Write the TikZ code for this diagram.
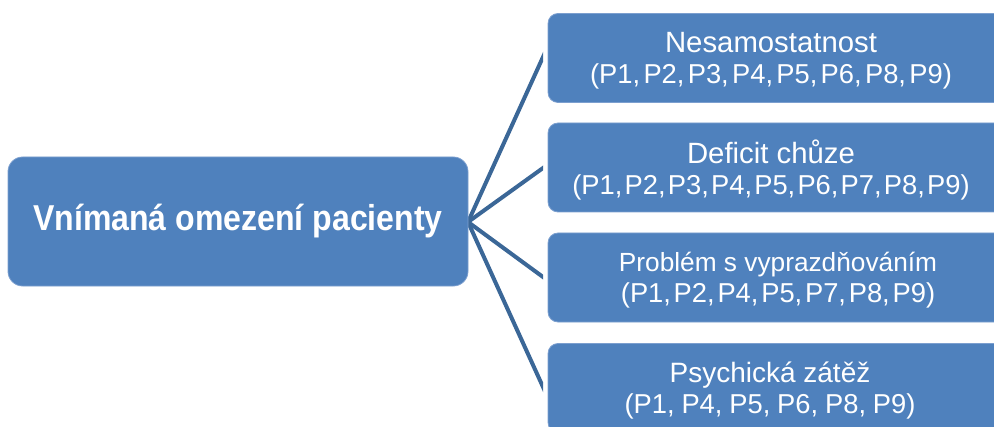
\documentclass[tikz,border=0pt]{standalone}
\usepackage{fontspec}
\setmainfont{Liberation Sans}
\usepackage{graphicx}
\usetikzlibrary{calc}
\definecolor{boxblue}{HTML}{4F81BD}
\definecolor{boxedge}{HTML}{7C9FCF}
\definecolor{linkblue}{HTML}{3B6797}
% title line and list line of a leaf box
\newcommand{\leafhead}[2]{{\fontsize{#1}{23.5}\selectfont #2}}
\newcommand{\leaflist}[2]{{\spaceskip=#1\relax #2}}
\begin{document}
\begin{tikzpicture}[x=0.75pt,y=-0.75pt,
  rootbox/.style={fill=boxblue, draw=boxedge, line width=0.6pt, rounded corners=11pt,
    minimum width=345pt, minimum height=96.75pt, inner sep=0pt, text=white},
  leafbox/.style={fill=boxblue, draw=boxedge, line width=0.6pt, rounded corners=7.5pt,
    minimum width=343.5pt, minimum height=66.75pt, inner sep=0pt},
  leaftext/.style={text=white, align=center, inner sep=0pt,
    font=\fontsize{20.5}{23.5}\selectfont},
  link/.style={draw=linkblue, line width=3pt}]
\useasboundingbox (0,0) rectangle (994,427);
\clip (0,0) rectangle (994,427);

% leaf boxes (their right ends run past the page edge)
\node[leafbox] (b1) at (777,58) {};
\node[leafbox] (b2) at (777,167.5) {};
\node[leafbox] (b3) at (777,277.5) {};
\node[leafbox] (b4) at (777,388) {};

\node[leaftext] (t1) at (771,60.5)
  {\leafhead{22}{Nesamostatnost}\\\leaflist{0.12em}{(P1, P2, P3, P4, P5, P6, P8, P9)}};
\node[leaftext] (t2) at (771,170)
  {\leafhead{22}{Deficit chůze}\\\leaflist{0.08em}{(P1, P2, P3, P4, P5, P6, P7, P8, P9)}};
\node[leaftext] (t3) at (778,280)
  {\leafhead{19.7}{Problém s vyprazdňováním}\\\leaflist{0.1em}{(P1, P2, P4, P5, P7, P8, P9)}};
\node[leaftext] (t4) at (770,390.5)
  {\leafhead{21}{Psychická zátěž}\\\leaflist{0.25em}{(P1, P4, P5, P6, P8, P9)}};

% free ends of the connectors, just short of the leaf boxes
\coordinate (e1) at (543,57);
\coordinate (e2) at (543,168);
\coordinate (e3) at (543,277);
\coordinate (e4) at (543,387);
\coordinate (hub) at (468,222);

\begin{scope}
  \clip (0,0) rectangle (543,427);
  \draw[link] (hub) -- ($(hub)!1.05!(e1)$);
  \draw[link] (hub) -- ($(hub)!1.05!(e2)$);
  \draw[link] (hub) -- ($(hub)!1.05!(e3)$);
  \draw[link] (hub) -- ($(hub)!1.05!(e4)$);
\end{scope}

% root box
\node[rootbox] (root) at (238,221.5)
  {\scalebox{0.89}[1]{\fontsize{27}{32}\selectfont\bfseries Vnímaná omezení pacienty}};
\end{tikzpicture}
\end{document}
